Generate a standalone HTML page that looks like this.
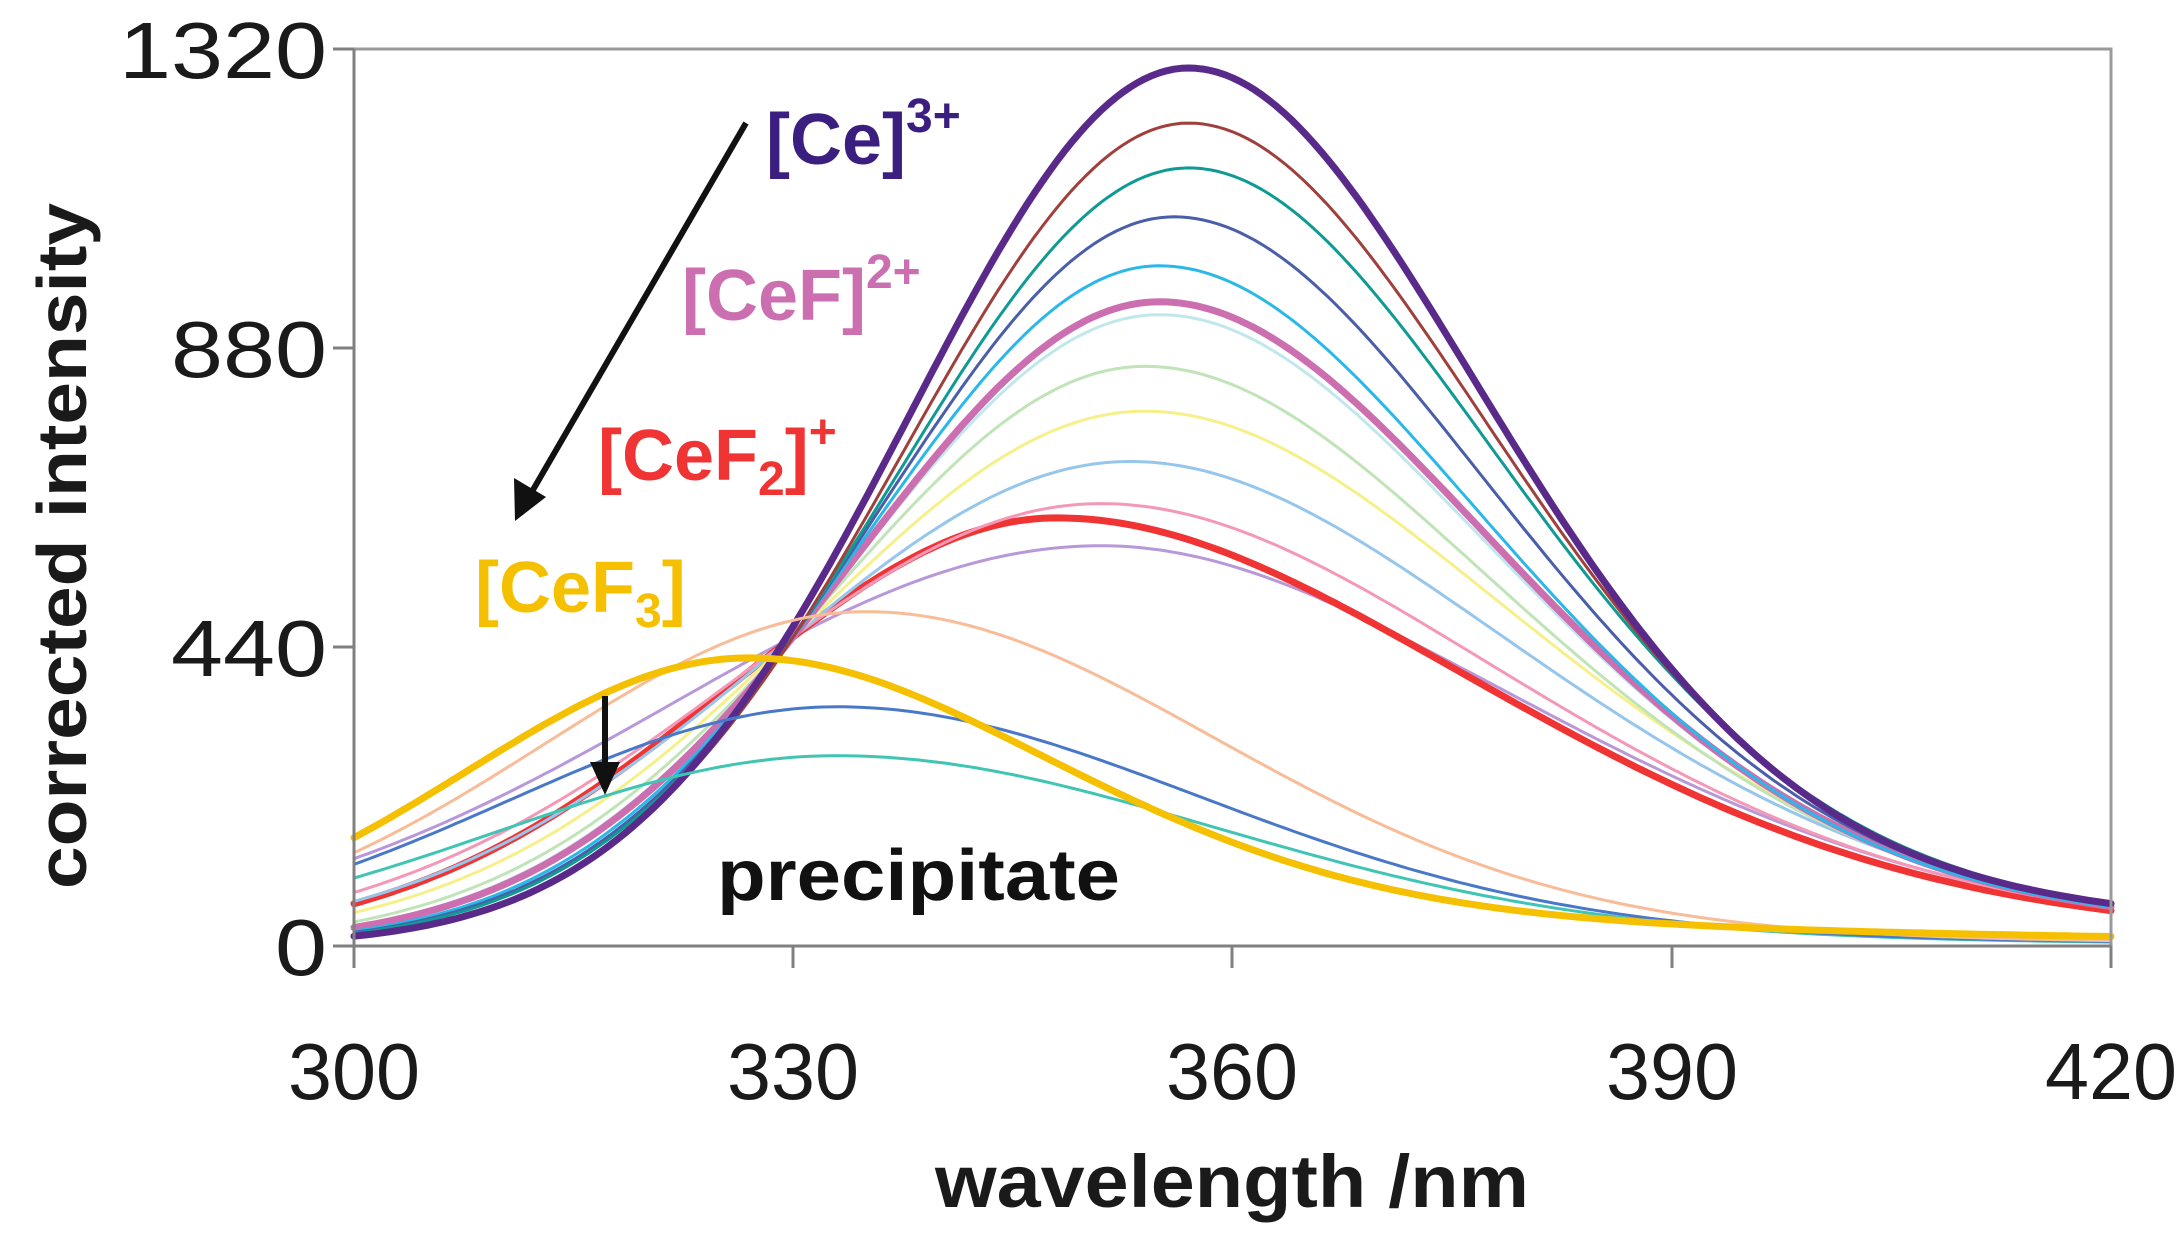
<!DOCTYPE html>
<html><head><meta charset="utf-8"><style>
html,body{margin:0;padding:0;background:#fff;}
svg{display:block;}
text{font-family:"Liberation Sans",Arial,sans-serif;}
</style></head><body>
<svg id="s" width="2184" height="1238" viewBox="0 0 2184 1238" xmlns="http://www.w3.org/2000/svg">
<rect width="2184" height="1238" fill="#fff"/>
<g id="curves" fill="none" stroke-linejoin="round" stroke-linecap="round"></g>
<path d="M354 49 H2111 V946" fill="none" stroke="#9a9a9a" stroke-width="3"/>
<path d="M354 49 V946 H2111" fill="none" stroke="#808080" stroke-width="3"/>
<g stroke="#808080" stroke-width="3">
<line x1="333" y1="49" x2="354" y2="49"/><line x1="333" y1="348" x2="354" y2="348"/>
<line x1="333" y1="647" x2="354" y2="647"/><line x1="333" y1="946" x2="354" y2="946"/>
<line x1="354" y1="946" x2="354" y2="968"/><line x1="793" y1="946" x2="793" y2="968"/>
<line x1="1232" y1="946" x2="1232" y2="968"/><line x1="1672" y1="946" x2="1672" y2="968"/>
<line x1="2111" y1="946" x2="2111" y2="968"/>
</g>
<g font-size="80" fill="#1a1a1a" text-anchor="end">
<text x="327" y="78" textLength="208" lengthAdjust="spacingAndGlyphs">1320</text>
<text x="327" y="377" textLength="156" lengthAdjust="spacingAndGlyphs">880</text>
<text x="327" y="676" textLength="156" lengthAdjust="spacingAndGlyphs">440</text>
<text x="327" y="975" textLength="52" lengthAdjust="spacingAndGlyphs">0</text>
</g>
<g font-size="80" fill="#1a1a1a" text-anchor="middle">
<text x="354" y="1099" textLength="132" lengthAdjust="spacingAndGlyphs">300</text>
<text x="793" y="1099" textLength="132" lengthAdjust="spacingAndGlyphs">330</text>
<text x="1232" y="1099" textLength="132" lengthAdjust="spacingAndGlyphs">360</text>
<text x="1672" y="1099" textLength="132" lengthAdjust="spacingAndGlyphs">390</text>
<text x="2111" y="1099" textLength="132" lengthAdjust="spacingAndGlyphs">420</text>
</g>
<text x="1232" y="1207" font-size="74" font-weight="bold" text-anchor="middle" fill="#1a1a1a" textLength="594" lengthAdjust="spacingAndGlyphs">wavelength /nm</text>
<text transform="translate(86,546) rotate(-90)" font-size="70" font-weight="bold" text-anchor="middle" fill="#1a1a1a" textLength="686" lengthAdjust="spacingAndGlyphs">corrected intensity</text>
<g font-size="72" font-weight="bold">
<text x="766" y="164" fill="#3b1f80">[Ce]<tspan font-size="48" dy="-32">3+</tspan></text>
<text x="682" y="320" fill="#cc6fb0">[CeF]<tspan font-size="48" dy="-32">2+</tspan></text>
<text x="598" y="480" fill="#f03434">[CeF<tspan font-size="48" dy="15">2</tspan><tspan dy="-15">]</tspan><tspan font-size="48" dy="-32">+</tspan></text>
<text x="475" y="612" fill="#f5c000">[CeF<tspan font-size="48" dy="15">3</tspan><tspan dy="-15">]</tspan></text>
<text x="717" y="900" fill="#111" textLength="403" lengthAdjust="spacingAndGlyphs">precipitate</text>
</g>
<line x1="746" y1="123" x2="530" y2="495" stroke="#111" stroke-width="6"/>
<polygon points="515,521 514,478 546,497" fill="#111"/>
<line x1="605" y1="696" x2="605" y2="768" stroke="#111" stroke-width="6"/>
<polygon points="605,795 590,762 620,762" fill="#111"/>
</svg>
<script>
(function(){
var X=function(nm){return 354+(nm-300)*(1757/120);};
var Y=function(v){return 946-v*(897/1320);};
function sL(mu,A){return (mu-330)/Math.sqrt(2*Math.log(A/455));}
var base=[
 ['#b898d8',3,351,589,null,27.5,0.5,32],
 ['#f03434',7,348,630,null,27.6,0.5,32],
 ['#f498b8',3,351,651,null,26.5,0.48,32],
 ['#96c6ec',3,353,713,null,25.5,0.45,32],
 ['#f6f08a',3,354,787,null,24.5,0.42,32],
 ['#c0e4b8',3,354,853,null,23.5,0.4,32],
 ['#c0e8ec',3,355,929,null,22.5,0.37,32],
 ['#cc6fb0',7,355,948,null,22.5,0.36,32],
 ['#2ab8e8',3,355,1001,null,22,0.35,32],
 ['#4a5eaa',3,356,1073,null,21.5,0.33,32],
 ['#0f9a94',3,357,1145,null,21,0.32,32],
 ['#a0403c',3,357,1211,null,20.5,0.31,32],
 ['#5a2a8a',7,357,1292,19,20,0.3,32],
 ['#40c4b4',3,333,280,23,26,0.15,40],
 ['#4a78c8',3,333,352,22.5,25,0.15,40],
 ['#f8bc98',3,335,492,21.9,24,0.12,40],
 ['#f5c000',7,327,424,19.3,21,0.3,42]
];
var g=document.getElementById('curves'),ns='http://www.w3.org/2000/svg';
base.forEach(function(c){
 var mu=c[2],A=c[3],sl=c[4]||sL(mu,A),sr=c[5],tc=c[6],tau=c[7];
 var d='';
 for(var nm=300;nm<=420.001;nm+=0.5){
  var v,dd;
  if(nm<=mu){dd=mu-nm;v=A*Math.exp(-dd*dd/(2*sl*sl));}
  else{dd=nm-mu;var G=Math.exp(-dd*dd/(2*sr*sr)),T=tc*Math.exp(-dd/tau);
   v=A*(G+T*(1-G)*(1-G));}
  d+=(d?'L':'M')+X(nm).toFixed(1)+' '+Y(v).toFixed(1);
 }
 var p=document.createElementNS(ns,'path');
 p.setAttribute('d',d);p.setAttribute('stroke',c[0]);p.setAttribute('stroke-width',c[1]);
 g.appendChild(p);
});
})();
</script>
</body></html>
